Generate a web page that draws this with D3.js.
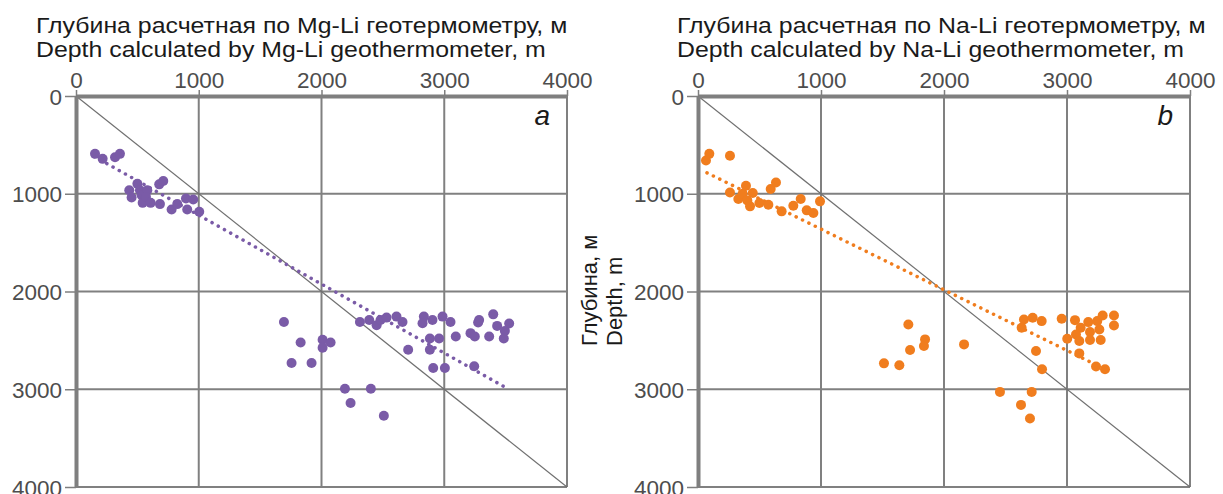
<!DOCTYPE html>
<html>
<head>
    <meta charset="utf-8">
    <title>Geothermometer depth</title>
    <script src="https://cdnjs.cloudflare.com/ajax/libs/d3/7.8.5/d3.min.js"></script>
    <style>
        body { margin: 0; background: #fff; }
        svg { display: block; font-family: "Liberation Sans", Arial, sans-serif; }
        .tick text { font-size: 22.5px; fill: #4d4d4d; }
        .title { font-size: 22px; fill: #1a1a1a; }
    </style>
</head>
<body>
<script type="text/javascript">
    var width = 1223,
        height = 494;

    var ticks = [0, 1000, 2000, 3000, 4000];

    // panel a: Mg-Li, [calculated depth, depth]
    var mgLi = [
        [155, 592], [217, 643], [318, 626], [358, 592],
        [434, 964], [453, 1039], [500, 897], [521, 964], [535, 1015], [543, 1093],
        [581, 964], [570, 1032], [608, 1093], [678, 904], [711, 870], [684, 1106],
        [779, 1161], [825, 1106], [896, 1049], [955, 1059], [906, 1161], [1004, 1185],
        [1694, 2312], [1830, 2521], [1756, 2731], [1919, 2731], [2009, 2494],
        [2074, 2521], [2009, 2575], [2191, 2995], [2402, 2995], [2237, 3140], [2508, 3272],
        [2313, 2312], [2389, 2291], [2449, 2345], [2481, 2291], [2530, 2267],
        [2611, 2257], [2660, 2312], [2706, 2596], [2834, 2257], [2823, 2325],
        [2904, 2291], [2986, 2257], [3051, 2312], [2883, 2480], [2958, 2480],
        [2883, 2596], [3094, 2460], [2910, 2782], [3005, 2782], [3214, 2426],
        [3249, 2460], [3276, 2318], [3284, 2291], [3366, 2460], [3399, 2234],
        [3431, 2352], [3494, 2403], [3485, 2480], [3529, 2328], [3244, 2764]
    ];
    var mgLiTrend = [[150, 620], [3490, 2975]];

    // panel b: Na-Li
    var naLi = [
        [65, 660], [92, 592], [260, 612], [260, 987], [328, 1054], [363, 1000],
        [390, 918], [401, 1068], [423, 1129], [445, 993], [499, 1095], [572, 1112],
        [591, 952], [634, 884], [680, 1180], [775, 1122], [835, 1054], [884, 1170],
        [938, 1197], [992, 1078],
        [1710, 2337], [1846, 2490], [1837, 2558], [1724, 2599], [1512, 2735],
        [1637, 2755], [2163, 2541], [2455, 3027], [2713, 3027], [2626, 3160],
        [2699, 3299], [2650, 2286], [2721, 2268], [2631, 2371], [2794, 2303],
        [2748, 2609], [2797, 2796], [2957, 2279], [3065, 2293], [3111, 2371],
        [3173, 2313], [3246, 2303], [3290, 2245], [3382, 2245], [3382, 2347],
        [3263, 2388], [3187, 2415], [3073, 2439], [3002, 2483], [3100, 2507],
        [3187, 2497], [3274, 2497], [3100, 2633], [3236, 2768], [3309, 2796]
    ];
    var naLiTrend = [[73, 786], [3228, 2745]];

    var svg = d3.select("body").append("svg")
        .attr("width", width)
        .attr("height", height);

    renderPanel({
        left: 76, right: 567,
        data: mgLi, trend: mgLiTrend, color: "#7a5ba7", letter: "a",
        title: ["Глубина расчетная по Mg-Li геотермометру, м",
                "Depth calculated by Mg-Li geothermometer, m"],
        titleX: 36
    });

    renderPanel({
        left: 698, right: 1190,
        data: naLi, trend: naLiTrend, color: "#f07d1e", letter: "b",
        title: ["Глубина расчетная по Na-Li геотермометру, м",
                "Depth calculated by Na-Li geothermometer, m"],
        titleX: 677
    });

    // y axis label (only on panel b)
    svg.append("text").attr("class", "title")
        .attr("transform", "translate(597,346) rotate(-90)")
        .text("Глубина, м");
    svg.append("text").attr("class", "title")
        .attr("transform", "translate(622,346) rotate(-90)")
        .text("Depth, m");

    function renderPanel(p) {
        var x = d3.scaleLinear().domain([0, 4000]).range([p.left, p.right]),
            y = d3.scaleLinear().domain([0, 4000]).range([96, 487]);

        var g = svg.append("g");

        // grid
        g.append("g").selectAll("line")
            .data(ticks.slice(1))
            .enter().append("line")
            .attr("x1", function(d){ return x(d); })
            .attr("x2", function(d){ return x(d); })
            .attr("y1", y(0)).attr("y2", y(4000))
            .attr("stroke", "#808080").attr("stroke-width", 2);

        g.append("g").selectAll("line")
            .data(ticks.slice(1))
            .enter().append("line")
            .attr("x1", x(0)).attr("x2", x(4000))
            .attr("y1", function(d){ return y(d); })
            .attr("y2", function(d){ return y(d); })
            .attr("stroke", "#808080").attr("stroke-width", 2);

        // 1:1 line
        g.append("line")
            .attr("x1", x(0)).attr("y1", y(0))
            .attr("x2", x(4000)).attr("y2", y(4000))
            .attr("stroke", "#707070").attr("stroke-width", 1.2);

        // axes
        var xAxis = g.append("g")
            .attr("transform", "translate(0," + y(0) + ")")
            .call(d3.axisTop(x).tickValues(ticks).tickSize(6).tickPadding(3)
                .tickSizeOuter(0).tickFormat(d3.format("d")));
        var yAxis = g.append("g")
            .attr("transform", "translate(" + x(0) + ",0)")
            .call(d3.axisLeft(y).tickValues(ticks).tickSize(11).tickPadding(3)
                .tickSizeOuter(0).tickFormat(d3.format("d")));

        [xAxis, yAxis].forEach(function(a){
            a.select(".domain").attr("stroke", "#7f7f7f").attr("stroke-width", 4);
            a.selectAll(".tick line").attr("stroke", "#7f7f7f").attr("stroke-width", 1.5);
        });
        xAxis.selectAll(".tick text").attr("dy", "0.05em");
        yAxis.selectAll(".tick text").attr("dy", "0.36em");

        // trend
        g.append("path")
            .datum(p.trend)
            .attr("d", d3.line().x(function(d){ return x(d[0]); }).y(function(d){ return y(d[1]); }))
            .attr("fill", "none")
            .attr("stroke", p.color)
            .attr("stroke-width", 3.5)
            .attr("stroke-linecap", "round")
            .attr("stroke-dasharray", "0.1 7");

        // dots
        g.append("g").selectAll("circle")
            .data(p.data)
            .enter().append("circle")
            .attr("cx", function(d){ return x(d[0]); })
            .attr("cy", function(d){ return y(d[1]); })
            .attr("r", 5)
            .attr("fill", p.color);

        // title, slightly widened like the original lettering
        g.selectAll("text.title")
            .data(p.title)
            .enter().append("text")
            .attr("class", "title")
            .attr("transform", function(d, i){
                return "translate(" + p.titleX + "," + (33 + i * 24) + ") scale(1.13,1)";
            })
            .text(function(d){ return d; });

        g.append("text")
            .attr("x", x(4000) - 17).attr("y", 125)
            .attr("text-anchor", "end")
            .attr("font-size", 28).attr("font-style", "italic")
            .attr("fill", "#1a1a1a")
            .text(p.letter);
    }
</script>
</body>
</html>
